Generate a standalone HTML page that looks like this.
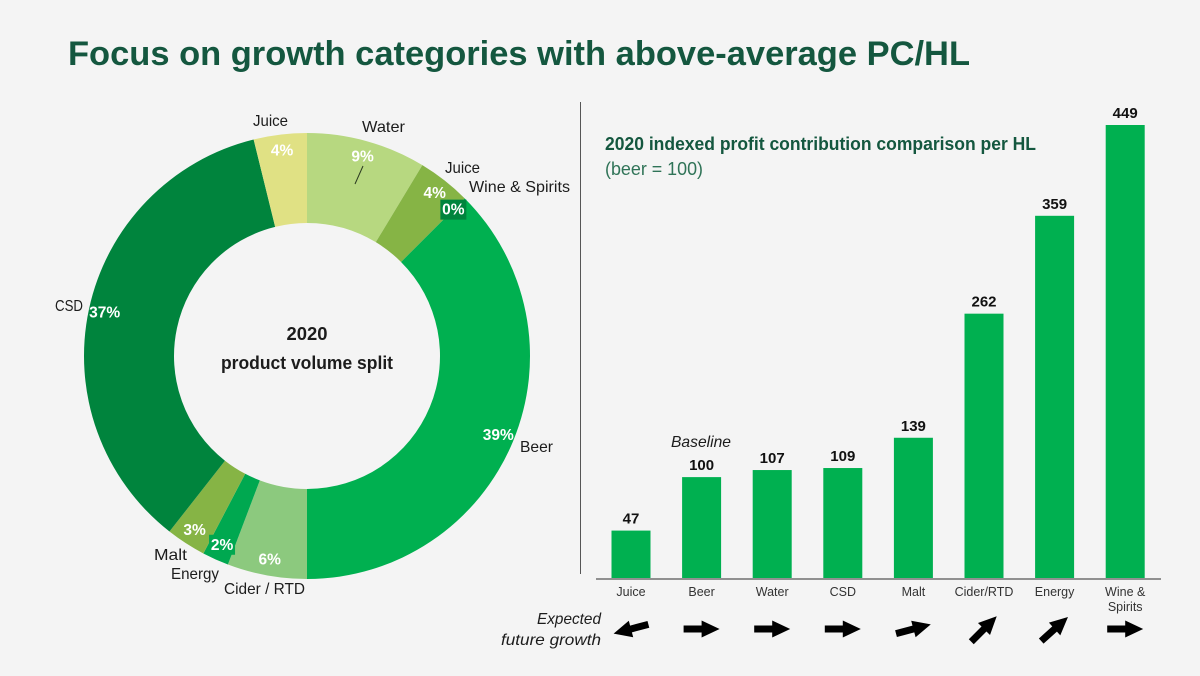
<!DOCTYPE html>
<html lang="en">
<head>
<meta charset="utf-8">
<title>Focus on growth categories</title>
<style>
html,body{margin:0;padding:0;background:#f4f4f4;}
svg{display:block;font-family:"Liberation Sans",sans-serif;}
text{fill:#1c1c1c;}
</style>
</head>
<body>
<svg id="chart" width="1200" height="676" viewBox="0 0 1200 676" xmlns="http://www.w3.org/2000/svg">
  <rect x="0" y="0" width="1200" height="676" fill="#f4f4f4"/>
  <text x="68" y="65" font-size="34" font-weight="700" style="fill:#14573f" textLength="902" lengthAdjust="spacingAndGlyphs">Focus on growth categories with above-average PC/HL</text>

  <g id="donut"></g>

  <text x="307" y="340" font-size="18" font-weight="700" text-anchor="middle" textLength="41" lengthAdjust="spacingAndGlyphs">2020</text>
  <text x="307" y="369" font-size="18" font-weight="700" text-anchor="middle" textLength="172" lengthAdjust="spacingAndGlyphs">product volume split</text>

  <text x="253" y="126" font-size="16" textLength="35" lengthAdjust="spacingAndGlyphs">Juice</text>
  <text x="362" y="132" font-size="16" textLength="43" lengthAdjust="spacingAndGlyphs">Water</text>
  <line x1="363" y1="166" x2="355" y2="184" stroke="#2b3a20" stroke-width="1"/>
  <text x="445" y="173" font-size="16" textLength="35" lengthAdjust="spacingAndGlyphs">Juice</text>
  <text x="469" y="192" font-size="16" textLength="101" lengthAdjust="spacingAndGlyphs">Wine &amp; Spirits</text>
  <text x="520" y="452" font-size="16" textLength="33" lengthAdjust="spacingAndGlyphs">Beer</text>
  <text x="55" y="311" font-size="16" textLength="28" lengthAdjust="spacingAndGlyphs">CSD</text>
  <text x="154" y="560" font-size="16" textLength="33" lengthAdjust="spacingAndGlyphs">Malt</text>
  <text x="171" y="579" font-size="16" textLength="48" lengthAdjust="spacingAndGlyphs">Energy</text>
  <text x="224" y="594" font-size="16" textLength="81" lengthAdjust="spacingAndGlyphs">Cider / RTD</text>

  <line x1="580.5" y1="102" x2="580.5" y2="574" stroke="#555" stroke-width="1"/>

  <text x="605" y="150" font-size="18" font-weight="700" style="fill:#14573f" textLength="431" lengthAdjust="spacingAndGlyphs">2020 indexed profit contribution comparison per HL</text>
  <text x="605" y="175" font-size="18" style="fill:#2f7357" textLength="98" lengthAdjust="spacingAndGlyphs">(beer = 100)</text>
  <text x="701" y="447" font-size="16" font-style="italic" text-anchor="middle" textLength="60" lengthAdjust="spacingAndGlyphs">Baseline</text>

  <g id="bars"></g>
  <line x1="596" y1="579" x2="1161" y2="579" stroke="#555" stroke-width="1.2"/>

  <text x="601" y="624" font-size="16" font-style="italic" text-anchor="end" textLength="64" lengthAdjust="spacingAndGlyphs">Expected</text>
  <text x="601" y="645" font-size="16" font-style="italic" text-anchor="end" textLength="100" lengthAdjust="spacingAndGlyphs">future growth</text>
  <g id="arrows"></g>
</svg>
<script>
// Donut chart data
const sliceNames = ["water", "juice", "wine-spirits", "beer", "cider-rtd", "energy", "malt", "csd", "juice-light"];
const sliceValues = [9, 4, 0, 39, 6, 2, 3, 37, 4];
const sliceColors = ["#b7d880", "#86b445", "#00843d", "#00b050", "#8cc97e", "#00a850", "#86b445", "#00843d", "#e0e184"];

// Bar chart data
const barCategories = ["Juice", "Beer", "Water", "CSD", "Malt", "Cider/RTD", "Energy", "Wine &|Spirits"];
const barValues = [47, 100, 107, 109, 139, 262, 359, 449];
const growthDirections = [-165, 0, 0, 0, 15, 45, 42, 0];

const NS = "http://www.w3.org/2000/svg";
function make(tag, attrs, parent, txt) {
  const el = document.createElementNS(NS, tag);
  for (const k in attrs) el.setAttribute(k, attrs[k]);
  if (txt !== undefined) el.textContent = txt;
  parent.appendChild(el);
  return el;
}

// Donut axis functions
const cx = 307, cy = 356, rOuter = 223, rInner = 133, rLabel = 207;
const total = sliceValues.reduce((a, b) => a + b, 0);
function angleOf(v) { return v / total * Math.PI * 2; }
function polar(r, a) { return [cx + r * Math.sin(a), cy - r * Math.cos(a)]; }
function arcPath(a0, a1) {
  const large = a1 - a0 > Math.PI ? 1 : 0;
  const p0 = polar(rOuter, a0), p1 = polar(rOuter, a1), p2 = polar(rInner, a1), p3 = polar(rInner, a0);
  return "M" + p0[0] + " " + p0[1] + "A" + rOuter + " " + rOuter + " 0 " + large + " 1 " + p1[0] + " " + p1[1] +
    "L" + p2[0] + " " + p2[1] + "A" + rInner + " " + rInner + " 0 " + large + " 0 " + p3[0] + " " + p3[1] + "Z";
}

const donut = document.getElementById("donut");
let running = 0;
sliceValues.forEach((v, i) => {
  const a0 = angleOf(running);
  const a1 = angleOf(running + v);
  running += v;
  if (v > 0) {
    const slice = make("path", { d: arcPath(a0, a1), fill: sliceColors[i] }, donut);
    
    
  }
});
running = 0;
sliceValues.forEach((v, i) => {
  const mid = angleOf(running + v / 2);
  running += v;
  const p = polar(rLabel, mid);
  if (v === 0 || v === 2) {
    const box = make("rect", { x: p[0] - 13, y: p[1] - 10, width: 26, height: 20, fill: sliceColors[i] }, donut);
    
    
  }
  const t = make("text", { x: p[0], y: p[1] + 5, "font-size": 15.5, "font-weight": 700, "text-anchor": "middle", style: "fill:#fff" }, donut, v + "%");
  
  
});

// Bar axis functions
const baseY = 578, unit = 453 / 449, firstX = 631, stepX = 70.6, barW = 39;
function xScale(i) { return firstX + i * stepX; }
function yScale(v) { return baseY - v * unit; }

const bars = document.getElementById("bars");
barValues.forEach((v, i) => {
  const x = xScale(i);
  const y = yScale(v);
  const r = make("rect", { x: x - barW / 2, y: y, width: barW, height: baseY - y, fill: "#00b050" }, bars);
  
  
  const val = make("text", { x: x, y: y - 7, "font-size": 15, "font-weight": 700, "text-anchor": "middle", style: "fill:#111" }, bars, v);
  
  
  barCategories[i].split("|").forEach((line, j) => {
    const lab = make("text", { x: x, y: 596 + j * 15, "font-size": 12.5, "text-anchor": "middle", style: "fill:#333" }, bars, line);
    
    
  });
});

const arrows = document.getElementById("arrows");
growthDirections.forEach((deg, i) => {
  const x = xScale(i);
  const pts = "-18,-3.5 0,-3.5 0,-8.5 18,0 0,8.5 0,3.5 -18,3.5";
  const a = make("polygon", { points: pts, fill: "#000", transform: "translate(" + x + " 629) rotate(" + (-deg) + ")" }, arrows);
  
  
});
</script>
</body>
</html>
